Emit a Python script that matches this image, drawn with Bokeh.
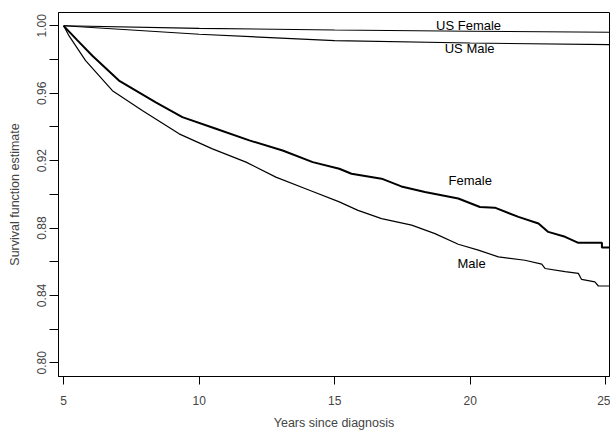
from bokeh.plotting import figure
from bokeh.models import FixedTicker, Range1d, ColumnDataSource
from bokeh.core.properties import value
from bokeh.embed import file_html
from bokeh.resources import INLINE

# ---- data ----
female_x = [5.0, 5.5, 6.06, 7.04, 8.40, 9.38, 10.62, 11.85, 13.08, 14.19, 15.17, 15.62,
            16.73, 17.46, 18.33, 19.56, 20.36, 20.91, 21.78, 22.52, 22.88, 23.50, 23.99,
            24.86, 24.86, 25.2]
female_y = [1.0, 0.9915, 0.9822, 0.9675, 0.9546, 0.9458, 0.9389, 0.9320, 0.9260, 0.9191,
            0.9152, 0.9122, 0.9093, 0.9047, 0.9014, 0.8975, 0.8925, 0.8921, 0.8866, 0.8827,
            0.8777, 0.8748, 0.8712, 0.8712, 0.8684, 0.8684]

male_x = [5.0, 5.2, 5.81, 6.80, 7.90, 9.26, 10.49, 11.73, 12.83, 14.07, 15.17, 15.86,
          16.73, 17.84, 18.70, 19.56, 20.30, 21.04, 22.02, 22.64, 22.76, 23.50, 23.99,
          24.11, 24.60, 24.73, 25.2]
male_y = [1.0, 0.994, 0.9793, 0.9615, 0.9497, 0.9359, 0.9270, 0.9191, 0.9102, 0.9024,
          0.8955, 0.8905, 0.8856, 0.8817, 0.8767, 0.8704, 0.8669, 0.8629, 0.8609, 0.8586,
          0.8560, 0.8541, 0.8531, 0.8495, 0.8481, 0.8456, 0.8456]

us_female_x = [5.0, 10.0, 15.0, 20.0, 25.2]
us_female_y = [1.0, 0.9985, 0.9975, 0.9968, 0.9962]

us_male_x = [5.0, 10.0, 15.0, 20.0, 25.2]
us_male_y = [1.0, 0.9950, 0.9912, 0.9898, 0.9888]

label_text = ["US Female", "US Male", "Female", "Male"]
label_x = [19.94, 19.98, 20.0, 20.05]
label_y = [1.0, 0.9864, 0.9083, 0.8592]

x_ticks = [5, 10, 15, 20, 25]
y_major = [0.80, 0.84, 0.88, 0.92, 0.96, 1.00]
y_minor = [0.82, 0.86, 0.90, 0.94, 0.98]
y_labels = {0.8: "0.80", 0.84: "0.84", 0.88: "0.88", 0.92: "0.92", 0.96: "0.96", 1.0: "1.00"}

FONT = "Liberation Sans"

p = figure(width=610, height=432, output_backend="svg", toolbar_location=None,
           x_range=Range1d(4.81, 25.14), y_range=Range1d(0.7919, 1.0079),
           min_border_left=58, min_border_right=1, min_border_top=12, min_border_bottom=55)

p.background_fill_color = "white"
p.border_fill_color = "white"
p.outline_line_color = "black"
p.outline_line_width = 1
p.grid.visible = False

# lines
p.line(us_female_x, us_female_y, line_color="black", line_width=1.1)
p.line(us_male_x, us_male_y, line_color="black", line_width=1.1)
p.line(female_x, female_y, line_color="black", line_width=2.0)
p.line(male_x, male_y, line_color="black", line_width=1.2)

src = ColumnDataSource(dict(x=label_x, y=label_y, t=label_text))
p.text(x="x", y="y", text="t", source=src, text_font=value(FONT), text_font_size="13px",
       text_align="center", text_baseline="middle", text_color="black")

# x axis
xa = p.xaxis[0]
xa.ticker = FixedTicker(ticks=x_ticks)
xa.axis_label = "Years since diagnosis"
xa.axis_label_text_font = FONT
xa.axis_label_text_font_size = "12.5px"
xa.axis_label_text_font_style = "normal"
xa.axis_label_standoff = 8
xa.major_label_text_font = FONT
xa.major_label_text_font_size = "12px"
xa.major_label_standoff = 11
xa.major_tick_out = 8
xa.major_tick_in = 0
xa.minor_tick_out = 0
xa.minor_tick_in = 0
xa.axis_line_color = "black"
xa.major_tick_line_color = "black"

# y axis
ya = p.yaxis[0]
ya.ticker = FixedTicker(ticks=y_major, minor_ticks=y_minor)
ya.major_label_overrides = y_labels
ya.major_label_orientation = "vertical"
ya.axis_label = "Survival function estimate"
ya.axis_label_text_font = FONT
ya.axis_label_text_font_size = "12.5px"
ya.axis_label_text_font_style = "normal"
ya.axis_label_standoff = 13
ya.major_label_text_font = FONT
ya.major_label_text_font_size = "12px"
ya.major_label_standoff = 3
ya.major_tick_out = 9
ya.major_tick_in = 0
ya.minor_tick_out = 9
ya.minor_tick_in = 0
ya.axis_line_color = "black"
ya.major_tick_line_color = "black"
ya.minor_tick_line_color = "black"

open("out.html", "w").write(file_html(p, INLINE))
